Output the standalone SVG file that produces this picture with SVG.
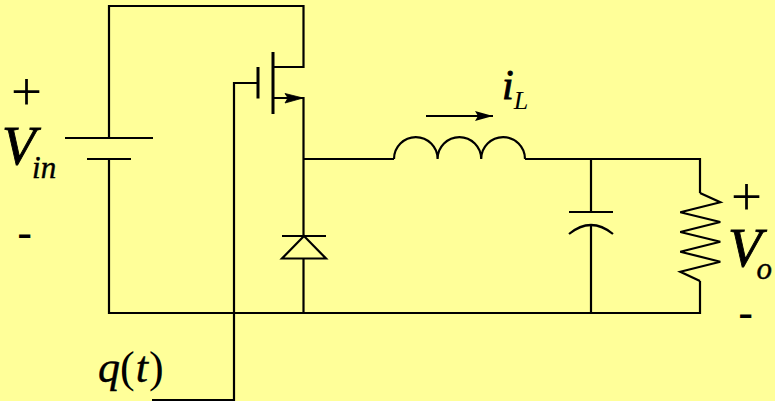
<svg xmlns="http://www.w3.org/2000/svg" width="775" height="401" viewBox="0 0 775 401">
<style>
.w{fill:none;stroke:#000;stroke-width:2.200;stroke-linejoin:miter}
.h{stroke-width:3}
.t{font-family:"Liberation Serif","Times New Roman",serif;fill:#000}
.i{font-style:italic}
.k{stroke:#000;stroke-width:.9}
.m{stroke:#000;stroke-width:.4}
.s{font-family:"Liberation Sans",Arial,sans-serif;fill:#000}
</style>
<defs>
<marker id="a" markerUnits="userSpaceOnUse" markerWidth="20" markerHeight="12" refX="18" refY="5" orient="auto"><path d="M0 0L18 5L0 10L3 5Z" fill="#000"/></marker>
</defs>
<rect width="775" height="401" fill="#ffff99"/>
<g id="connectors">
<path class="w" d="M109 138V6H303.500V67H273"/>
<path class="w" d="M273 98H303.500V236"/>
<path class="w" d="M109 159V313H700V281"/>
<path class="w" d="M303.500 159H394"/>
<path class="w" d="M525 159H700V193"/>
<path class="w" d="M303.500 258V313"/>
<path class="w" d="M591 159V212"/>
<path class="w" d="M591 226V313"/>
<path class="w" d="M152 400H234V83H258"/>
</g>
<g id="battery"><path class="w" d="M65 138H153M87 159H131"/></g>
<g id="mosfet">
<path class="w h" d="M258 67V98.500M273 52V114"/>
<path d="M285 93.500L303 98L285 103L288 98Z" fill="#000" stroke="#000" stroke-width=".8"/>
</g>
<g id="diode"><path class="w" d="M282 236H326M304 236L282 258.500H326Z"/></g>
<g id="inductor"><path class="w" d="M394 159A21.800 21.800 0 0 1 437.600 159A21.800 21.800 0 0 1 481.200 159A21.800 21.800 0 0 1 525 159"/></g>
<g id="current-arrow"><path class="w" d="M426 116H493" marker-end="url(#a)"/></g>
<g id="capacitor"><path class="w" d="M569 212H613M569 234Q591 216 613 234"/></g>
<g id="resistor"><path class="w" d="M700 193L720.300 202.300L680.300 212.300L720.300 222L680.300 232L720.300 241.700L680.300 251.700L720.300 261.700L680.300 271.700L700 281"/></g>
<g id="labels">
<text class="t" x="11" y="109.500" font-size="55">+</text>
<text class="t i" x="2" y="164" font-size="55"><tspan class="k">V</tspan><tspan font-size="31" dx="-3.500" dy="14" class="m">in</tspan></text>
<text class="s" x="17" y="249" font-size="46">-</text>
<text class="t i" x="502" y="99" font-size="42"><tspan class="k">i</tspan><tspan font-size="26" dx="0" dy="10">L</tspan></text>
<text class="t" x="731" y="214.500" font-size="55">+</text>
<text class="t i" x="728" y="266" font-size="55"><tspan class="k">V</tspan><tspan font-size="31" dx="-5" dy="13" class="m">o</tspan></text>
<text class="s" x="738" y="329" font-size="46">-</text>
<text class="t" x="98" y="382" font-size="44"><tspan class="i m">q</tspan><tspan>(</tspan><tspan class="i m" dx="1">t</tspan><tspan dx="1">)</tspan></text>
</g>
</svg>
